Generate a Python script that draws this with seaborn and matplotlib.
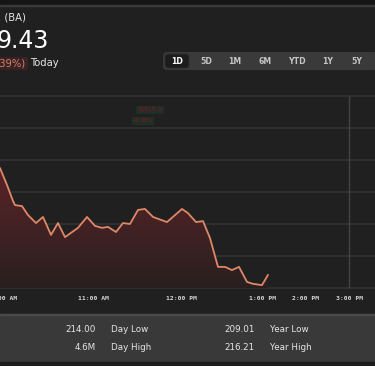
import numpy as np
import seaborn as sns
import matplotlib.pyplot as plt
from matplotlib.patches import Rectangle, FancyBboxPatch
from matplotlib.colors import LinearSegmentedColormap

# intraday price path (x = position along the session axis, y = price)
pos = [0, 7, 13, 15, 22, 28, 36, 43, 51, 58, 65, 78, 87, 95, 102, 108, 116, 123,
       130, 138, 145, 153, 167, 182, 188, 196, 203, 210, 218, 225, 232, 239, 247,
       253, 262, 268]
price = [213.75, 213.22, 212.72, 212.59, 212.56, 212.28, 212.03, 212.22, 211.66,
         212.03, 211.59, 211.88, 212.22, 211.94, 211.88, 211.91, 211.75, 212.03,
         212.00, 212.44, 212.47, 212.22, 212.06, 212.47, 212.34, 212.06, 212.09,
         211.56, 210.66, 210.66, 210.56, 210.66, 210.19, 210.13, 210.09, 210.41]
grid_prices = [210, 211, 212, 213, 214, 215, 216]
time_labels = [':00 AM', '11:00 AM', '12:00 PM', '1:00 PM', '2:00 PM', '3:00 PM']
time_pos = [6, 94, 181, 263, 306, 350]
ranges = ['1D', '5D', '1M', '6M', 'YTD', '1Y', '5Y']
range_pos = [177, 206, 235, 265, 297, 328, 357]
stat_vals = [['214.00', '4.6M'], ['209.01', '216.21']]
stat_names = [['Day Low', 'Day High'], ['Year Low', 'Year High']]

W, H = 375, 366
bg = '#202020'
line_c = '#de8868'

sns.set_style('dark')
plt.rcParams['font.family'] = ['DejaVu Sans']

fig = plt.figure(figsize=(W / 100, H / 100), dpi=100, facecolor=bg)
ax = fig.add_axes([0, 0, 1, 1])
ax.set_facecolor(bg)

# price per pixel: gridlines every 32 px, 216 at y=96
def py(p):
    return 216 - (p - 96) / 32

ax.set_xlim(0, W)
ax.set_ylim(py(H), py(0))
ax.axis('off')

def fx(x):
    return x / W

def fy(y):
    return 1 - y / H

# grid
for g in grid_prices:
    ax.axhline(g, color='#333333', lw=1.2, zorder=1)
ax.vlines(349, 210, 216, color='#434343', lw=1, zorder=1)

# gradient fill under the line
poly = ax.fill_between(pos, price, 210, color='none', zorder=2)
grad = np.linspace(1, 0, 256).reshape(-1, 1)
cmap = LinearSegmentedColormap.from_list('f', ['#2a1f1f', '#5a2428'])
img = ax.imshow(grad, cmap=cmap, aspect='auto', extent=[0, 270, 210, 213.8],
                zorder=2, vmin=0, vmax=1)
img.set_clip_path(poly.get_paths()[0], transform=ax.transData)

sns.lineplot(x=pos, y=price, ax=ax, color=line_c, lw=1.3, zorder=3)

for lab, xp in zip(time_labels, time_pos):
    ax.text(xp, py(299), lab, color='#d8d8d8', fontsize=4.6, ha='center', va='center',
            family='DejaVu Sans Mono', fontweight='bold')

# header
fig.patches.append(Rectangle((0, fy(5)), 1, 5 / H, transform=fig.transFigure,
                             color='#151515', zorder=0))
fig.patches.append(Rectangle((0, fy(6)), 1, 1.5 / H, transform=fig.transFigure,
                             color='#3a3a3a', zorder=0))
fig.text(fx(-2), fy(17), '. (BA)', color='#e6e6e6', fontsize=7.2, va='center')
fig.text(fx(-3), fy(41), '9.43', color='white', fontsize=17, va='center')
fig.text(fx(-3), fy(63), '.39%)', color='#d2826a', fontsize=7.2, va='center',
         bbox=dict(boxstyle='square,pad=0.15', fc='#3a2224', ec='none'))
fig.text(fx(30), fy(63), 'Today', color='#e6e6e6', fontsize=7.2, va='center')

# range selector
fig.patches.append(FancyBboxPatch((fx(163), fy(70)), fx(215), 18 / H,
                                  boxstyle='round,pad=0,rounding_size=0.012',
                                  transform=fig.transFigure, fc='#3a3a3a', ec='none'))
fig.patches.append(FancyBboxPatch((fx(165), fy(68)), fx(24), 14 / H,
                                  boxstyle='round,pad=0,rounding_size=0.01',
                                  transform=fig.transFigure, fc='#1c1c1c', ec='#2c2c2c',
                                  lw=0.8))
for i, (r, xp) in enumerate(zip(ranges, range_pos)):
    fig.text(fx(xp), fy(61), r, color='white' if i == 0 else '#c4c4c4',
             fontsize=5.6, ha='center', va='center', fontweight='bold')

# faint ghost label
fig.text(fx(150), fy(110), '1(0)3.1', color='#6a1a28', fontsize=4.5, ha='center',
         va='center', fontweight='bold',
         bbox=dict(boxstyle='square,pad=0.2', fc='#1e2f24', ec='none'))
fig.text(fx(143), fy(121), '-2.9%', color='#6a1a28', fontsize=4.5, ha='center',
         va='center', fontweight='bold',
         bbox=dict(boxstyle='square,pad=0.2', fc='#1e2f24', ec='none'))

# bottom stats panel
fig.patches.append(Rectangle((0, 0), 1, fy(314), transform=fig.transFigure,
                             color='#393939', zorder=0))
fig.patches.append(Rectangle((0, fy(315)), 1, 1.2 / H, transform=fig.transFigure,
                             color='#4a4a4a', zorder=0))
fig.patches.append(Rectangle((0, 0), 1, 4 / H, transform=fig.transFigure,
                             color='#1c1c1c', zorder=0))
for c, (vx, nx) in enumerate([(96, 111), (255, 270)]):
    for r, yy in enumerate([329, 348]):
        fig.text(fx(vx), fy(yy), stat_vals[c][r], color='#e6e6e6', fontsize=6.3,
                 ha='right', va='center')
        fig.text(fx(nx), fy(yy), stat_names[c][r], color='#e6e6e6', fontsize=6.3,
                 ha='left', va='center')

fig.savefig('out.png', dpi=100, facecolor=bg)
